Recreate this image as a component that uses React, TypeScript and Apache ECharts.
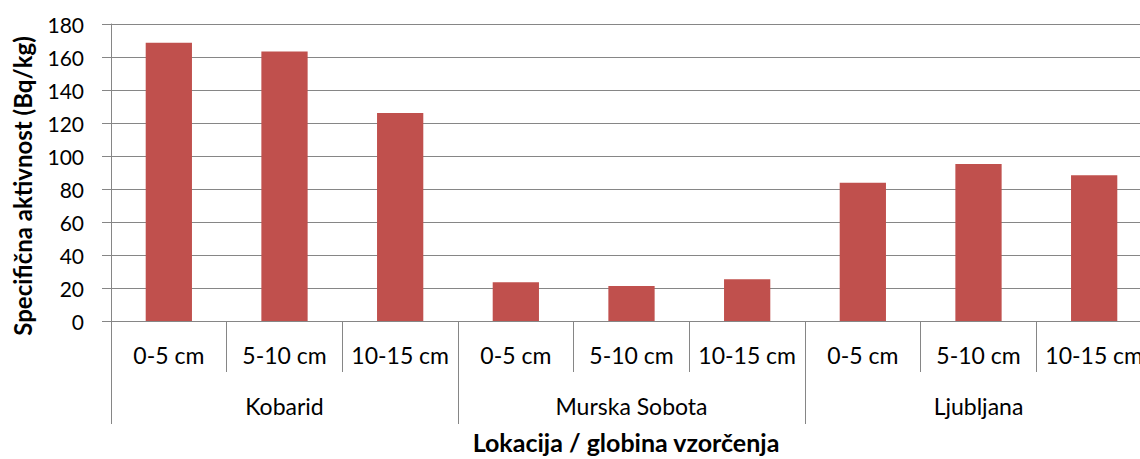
import React, { useEffect, useRef } from "react";
import * as echarts from "echarts";

const depths = ["0-5 cm", "5-10 cm", "10-15 cm", "0-5 cm", "5-10 cm", "10-15 cm", "0-5 cm", "5-10 cm", "10-15 cm"];
const locations = ["Kobarid", "Murska Sobota", "Ljubljana"];
const values = [168.7, 163.4, 126, 23.5, 21.2, 25.3, 83.8, 95.2, 88.3];
const yTitle = "Specifična aktivnost (Bq/kg)";
const xTitle = "Lokacija / globina vzorčenja";

const FONT = "Lato, 'Open Sans', sans-serif";
const GRAY = "#868686";

export default function App() {
  const ref = useRef<HTMLDivElement>(null);
  useEffect(() => {
    if (!ref.current) return;
    const chart = echarts.init(ref.current, undefined, { renderer: "svg" });
    chart.setOption({
      animation: false,
      backgroundColor: "#fff",
      textStyle: { fontFamily: FONT },
      grid: { left: 111, top: 24, width: 1041, height: 297, containLabel: false },
      xAxis: [
        {
          type: "category",
          data: depths,
          position: "bottom",
          axisLine: { show: true, lineStyle: { color: GRAY, width: 1 } },
          axisTick: { show: true, interval: 0, length: 51, lineStyle: { color: GRAY, width: 1 } },
          axisLabel: { interval: 0, margin: 22, color: "#000", fontSize: 23, fontFamily: FONT },
          splitLine: { show: false },
        },
        {
          type: "category",
          data: locations,
          position: "bottom",
          axisLine: { show: false },
          axisTick: { show: true, interval: 0, length: 103, lineStyle: { color: GRAY, width: 1 } },
          axisLabel: { interval: 0, margin: 73, color: "#000", fontSize: 23, fontFamily: FONT },
          splitLine: { show: false },
        },
      ],
      yAxis: {
        type: "value",
        min: 0,
        max: 180,
        interval: 20,
        axisLine: { show: true, lineStyle: { color: GRAY, width: 1 } },
        axisTick: { show: true, length: 9, lineStyle: { color: GRAY, width: 1 } },
        axisLabel: { margin: 27, color: "#000", fontSize: 21, fontFamily: FONT },
        splitLine: { show: true, lineStyle: { color: GRAY, width: 1 } },
      },
      graphic: [
        {
          type: "text",
          x: 22,
          y: 186,
          rotation: Math.PI / 2,
          style: {
            text: yTitle,
            fill: "#000",
            font: `bold 24px ${FONT}`,
            textAlign: "center",
            textVerticalAlign: "middle",
          },
        },
        {
          type: "text",
          x: 626,
          y: 442,
          style: {
            text: xTitle,
            fill: "#000",
            font: `bold 25px ${FONT}`,
            textAlign: "center",
            textVerticalAlign: "middle",
          },
        },
      ],
      series: [
        {
          type: "bar",
          xAxisIndex: 0,
          data: values,
          barWidth: "40%",
          itemStyle: { color: "#C0504D" },
        },
      ],
    });
    return () => chart.dispose();
  }, []);
  return (
    <div style={{ position: "fixed", left: 0, top: 0, width: 1140, height: 459, overflow: "hidden", background: "#fff" }}>
      <div ref={ref} style={{ width: 1170, height: 459 }} />
    </div>
  );
}
